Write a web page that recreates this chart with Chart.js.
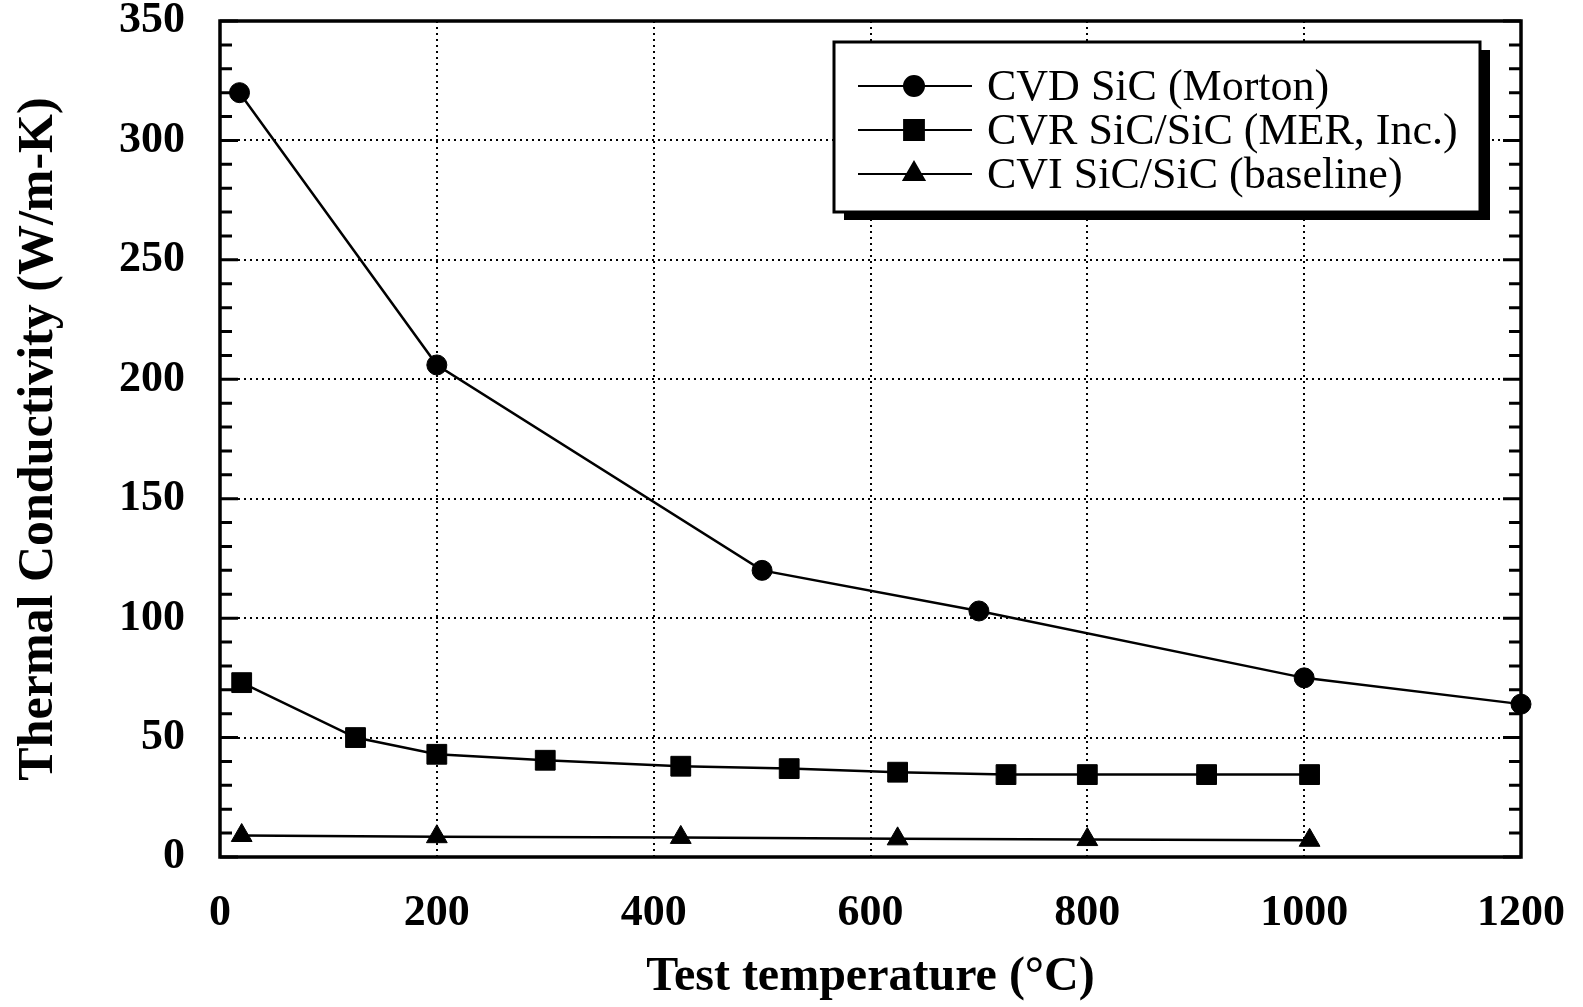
<!DOCTYPE html>
<html>
<head>
<meta charset="utf-8">
<title>Thermal Conductivity vs Test Temperature</title>
<script src="https://cdn.jsdelivr.net/npm/chart.js@4.4.0/dist/chart.umd.min.js"></script>
<style>
    html, body { margin: 0; padding: 0; background: #fff; }
    #wrap { width: 1583px; height: 1007px; }
</style>
</head>
<body>
<div id="wrap"><canvas id="conductivity"></canvas></div>
<script>
(function () {
    "use strict";

    // Test temperature (°C) and thermal conductivity (W/m-K) per material
    var cvdTemp = [18, 200, 500, 700, 1000, 1200];
    var cvdK = [320, 206, 120, 103, 75, 64];

    var cvrTemp = [20, 125, 200, 300, 425, 525, 625, 725, 800, 910, 1005];
    var cvrK = [73, 50, 43, 40.5, 38, 37, 35.5, 34.5, 34.5, 34.5, 34.5];

    var cviTemp = [20, 200, 425, 625, 800, 1005];
    var cviK = [9, 8.5, 8.2, 7.6, 7.3, 7.0];

    var seriesNames = ["CVD SiC (Morton)", "CVR SiC/SiC (MER, Inc.)", "CVI SiC/SiC (baseline)"];

    // Axis ticks
    var xTicks = [0, 200, 400, 600, 800, 1000, 1200];
    var yMajor = [0, 50, 100, 150, 200, 250, 300, 350];
    var yMinorStep = 10;

    var serif = '"Liberation Serif", "DejaVu Serif", serif';

    function points(xs, ys) {
        return xs.map(function (x, i) { return { x: x, y: ys[i] }; });
    }

    // Frame round the plot, inward minor/major ticks on left and right
    var frameTicks = {
        id: "frameTicks",
        beforeDatasetsDraw: function (chart) {
            var ctx = chart.ctx, a = chart.chartArea, ys = chart.scales.y;
            ctx.save();
            ctx.strokeStyle = "#000";
            ctx.lineWidth = 3;
            ys.ticks.forEach(function (t) {
                var py = ys.getPixelForValue(t.value);
                var len = yMajor.indexOf(t.value) >= 0 ? 18 : 12;
                ctx.beginPath();
                ctx.moveTo(a.left, py);
                ctx.lineTo(a.left + len, py);
                ctx.moveTo(a.right, py);
                ctx.lineTo(a.right - len, py);
                ctx.stroke();
            });
            ctx.lineWidth = 3.5;
            ctx.strokeRect(a.left, a.top, a.right - a.left, a.bottom - a.top);
            ctx.restore();
        }
    };

    // Boxed legend with a drop shadow, line + marker samples
    var legendBox = {
        id: "legendBox",
        afterDraw: function (chart) {
            var ctx = chart.ctx, a = chart.chartArea;
            var w = 646, h = 170;
            var x = a.right - 41 - w, y = a.top + 21;
            ctx.save();
            ctx.fillStyle = "#000";
            ctx.fillRect(x + 10, y + 8, w, h);
            ctx.fillStyle = "#fff";
            ctx.fillRect(x, y, w, h);
            ctx.lineWidth = 3;
            ctx.strokeStyle = "#000";
            ctx.strokeRect(x, y, w, h);

            ctx.font = "44px " + serif;
            ctx.textBaseline = "middle";
            chart.data.datasets.forEach(function (ds, i) {
                var cy = y + 44 + i * 44;
                ctx.strokeStyle = "#000";
                ctx.lineWidth = 2;
                ctx.beginPath();
                ctx.moveTo(x + 24, cy);
                ctx.lineTo(x + 138, cy);
                ctx.stroke();
                ctx.fillStyle = "#000";
                Chart.helpers.drawPoint(ctx, {
                    pointStyle: ds.pointStyle,
                    radius: ds.pointRadius,
                    rotation: 0,
                    borderWidth: 1
                }, x + 80, cy);
                ctx.fillStyle = "#000";
                ctx.fillText(ds.label, x + 153, cy + 2);
            });
            ctx.restore();
        }
    };

    var ctx = document.getElementById("conductivity").getContext("2d");
    var chart = new Chart(ctx, {
        type: "line",
        data: {
            datasets: [{
                    label: seriesNames[0],
                    data: points(cvdTemp, cvdK),
                    pointStyle: "circle",
                    pointRadius: 10
                },
                {
                    label: seriesNames[1],
                    data: points(cvrTemp, cvrK),
                    pointStyle: "rect",
                    pointRadius: 14
                },
                {
                    label: seriesNames[2],
                    data: points(cviTemp, cviK),
                    pointStyle: "triangle",
                    pointRadius: 12
                }
            ]
        },
        options: {
            responsive: true,
            maintainAspectRatio: false,
            animation: false,
            layout: { padding: { left: 0, right: 62, top: 21, bottom: 0 } },
            elements: {
                line: { borderColor: "#000", borderWidth: 2.5, tension: 0, fill: false },
                point: { backgroundColor: "#000", borderColor: "#000", borderWidth: 1, hoverRadius: 10 }
            },
            datasets: { line: { clip: false } },
            plugins: {
                legend: { display: false },
                tooltip: { enabled: false }
            },
            scales: {
                x: {
                    type: "linear",
                    min: 0,
                    max: 1200,
                    afterBuildTicks: function (s) {
                        s.ticks = xTicks.map(function (v) { return { value: v }; });
                    },
                    afterFit: function (s) {
                        s.height = 150;
                        s.paddingLeft = 0;
                        s.paddingRight = 0;
                    },
                    grid: {
                        drawTicks: false,
                        lineWidth: 2,
                        color: function (c) {
                            var v = c.tick && c.tick.value;
                            return (v > 0 && v < 1200) ? "#000" : "rgba(0,0,0,0)";
                        }
                    },
                    border: { display: false, dash: [2, 4] },
                    ticks: {
                        color: "#000",
                        padding: 30,
                        maxRotation: 0,
                        font: { family: serif, size: 44, weight: "bold" },
                        callback: function (v) { return String(v); }
                    },
                    title: {
                        display: true,
                        text: "Test temperature (°C)",
                        color: "#000",
                        padding: { top: 0, bottom: 1 },
                        font: { family: serif, size: 48, weight: "bold" }
                    }
                },
                y: {
                    min: 0,
                    max: 350,
                    afterFit: function (s) {
                        s.width = 220;
                        s.paddingTop = 0;
                        s.paddingBottom = 0;
                    },
                    grid: {
                        drawTicks: false,
                        lineWidth: 2,
                        color: function (c) {
                            var v = c.tick && c.tick.value;
                            return (yMajor.indexOf(v) > 0 && v < 350) ? "#000" : "rgba(0,0,0,0)";
                        }
                    },
                    border: { display: false, dash: [2, 4] },
                    ticks: {
                        stepSize: yMinorStep,
                        autoSkip: false,
                        color: "#000",
                        padding: 35,
                        font: { family: serif, size: 44, weight: "bold" },
                        callback: function (v) {
                            return yMajor.indexOf(v) >= 0 ? String(v) : "";
                        }
                    },
                    title: {
                        display: true,
                        text: "Thermal Conductivity (W/m-K)",
                        color: "#000",
                        padding: { top: 9, bottom: 0 },
                        font: { family: serif, size: 50, weight: "bold" }
                    }
                }
            }
        },
        plugins: [frameTicks, legendBox]
    });

})();
</script>
</body>
</html>
